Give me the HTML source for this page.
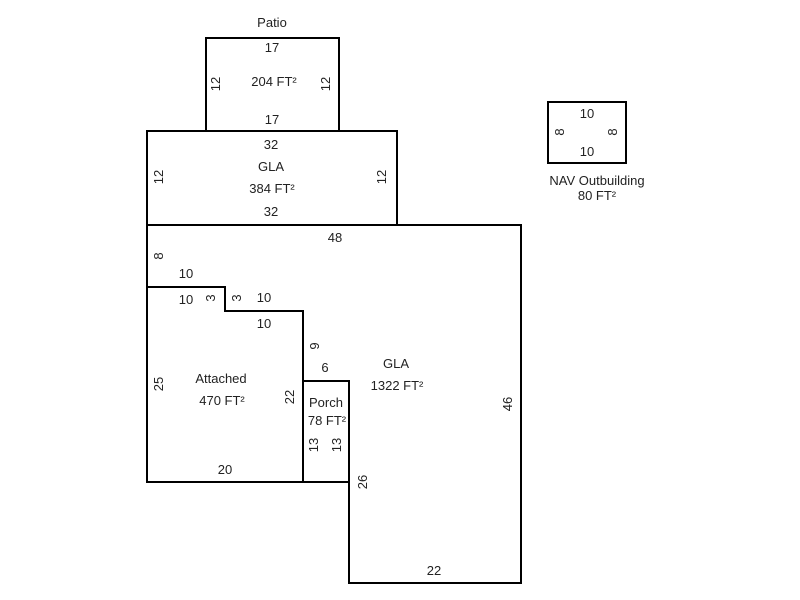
<!DOCTYPE html>
<html><head><meta charset="utf-8"><style>
html,body{margin:0;padding:0;background:#fff;}
svg{display:block;}
text{font-family:"Liberation Sans",Arial,sans-serif;font-size:13px;fill:#222;}
</style></head><body>
<svg width="800" height="600" viewBox="0 0 800 600" xmlns="http://www.w3.org/2000/svg">
<g fill="none" stroke="#000" stroke-width="2">
<rect x="206" y="38" width="133" height="93"/>
<rect x="147" y="131" width="250" height="94"/>
<polygon points="147,225 521,225 521,583 349,583 349,381 303,381 303,311 225,311 225,287 147,287"/>
<polygon points="147,287 225,287 225,311 303,311 303,482 147,482"/>
<rect x="303" y="381" width="46" height="101"/>
<rect x="548" y="102" width="78" height="61"/>
</g>
<g text-anchor="middle">
<text x="272" y="27">Patio</text>
<text x="272" y="52">17</text>
<text x="274" y="86">204 FT²</text>
<text x="272" y="124">17</text>
<text x="271" y="149">32</text>
<text x="271" y="171">GLA</text>
<text x="272" y="193">384 FT²</text>
<text x="271" y="216">32</text>
<text x="335" y="242">48</text>
<text x="186" y="278">10</text>
<text x="186" y="304">10</text>
<text x="264" y="302">10</text>
<text x="264" y="328">10</text>
<text x="325" y="372">6</text>
<text x="396" y="368">GLA</text>
<text x="397" y="390">1322 FT²</text>
<text x="221" y="383">Attached</text>
<text x="222" y="405">470 FT²</text>
<text x="326" y="407">Porch</text>
<text x="327" y="425">78 FT²</text>
<text x="225" y="474">20</text>
<text x="434" y="575">22</text>
<text x="587" y="118">10</text>
<text x="587" y="156">10</text>
<text x="597" y="185">NAV Outbuilding</text>
<text x="597" y="200">80 FT²</text>
</g>
<g text-anchor="middle">
<text transform="translate(220,84) rotate(-90)">12</text>
<text transform="translate(330,84) rotate(-90)">12</text>
<text transform="translate(163,177) rotate(-90)">12</text>
<text transform="translate(386,177) rotate(-90)">12</text>
<text transform="translate(163,256) rotate(-90)">8</text>
<text transform="translate(215,298) rotate(-90)">3</text>
<text transform="translate(241,298) rotate(-90)">3</text>
<text transform="translate(319,346) rotate(-90)">9</text>
<text transform="translate(163,384) rotate(-90)">25</text>
<text transform="translate(294,397) rotate(-90)">22</text>
<text transform="translate(318,445) rotate(-90)">13</text>
<text transform="translate(341,445) rotate(-90)">13</text>
<text transform="translate(367,482) rotate(-90)">26</text>
<text transform="translate(512,404) rotate(-90)">46</text>
<text transform="translate(564,132) rotate(-90)">8</text>
<text transform="translate(617,132) rotate(-90)">8</text>
</g>
</svg>
</body></html>
